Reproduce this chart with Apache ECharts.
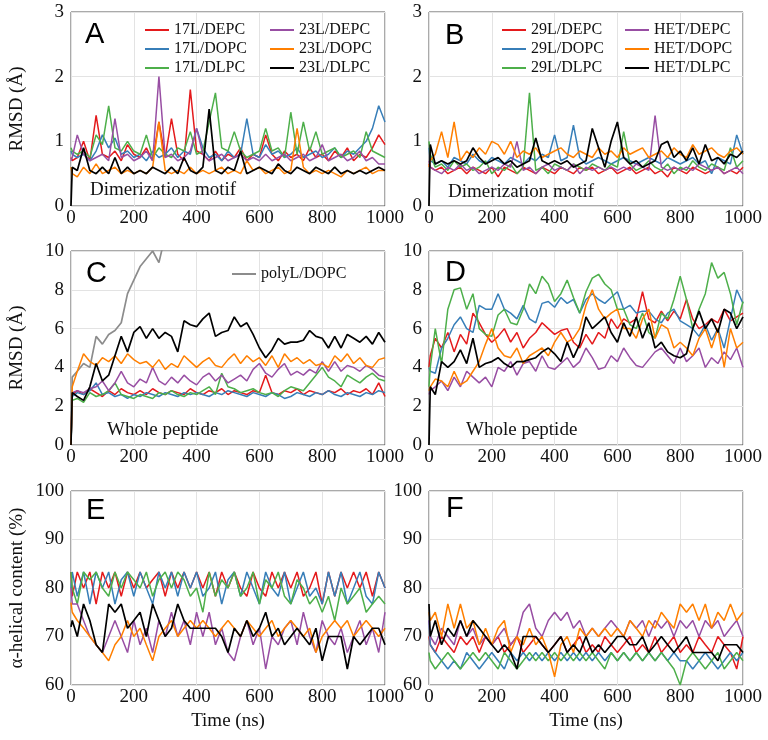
<!DOCTYPE html>
<html><head><meta charset="utf-8">
<script src="https://cdn.jsdelivr.net/npm/echarts@6/dist/echarts.min.js"></script>
<style>html,body{margin:0;padding:0;background:#fff}#c{width:768px;height:740px}</style>
</head><body><div id="c"></div>
<script>
// time points (ns)
const T = [0,4,20,40,60,80,100,120,140,160,180,200,220,240,260,280,300,320,340,360,380,400,420,440,460,480,500,520,540,560,580,600,620,640,660,680,700,720,740,760,780,800,820,840,860,880,900,920,940,960,980,1000];

// Panel A: dimerization motif RMSD
const A_17L_DEPC = [0.75,0.7, 0.75,1.0,0.7,1.4,0.8,0.75,0.85,0.7,0.95,0.8, 0.75,0.9,0.7,1.3,0.75,1.35,0.8,0.7,1.8,0.85, 0.8,0.7,0.85,0.7,0.8,0.75,0.9,0.7,0.8,0.75, 1.1,0.8,0.7,0.85,0.75,0.8,0.7,0.9,0.75,0.8, 0.7,0.85,0.75,0.9,0.7,0.8,0.75,0.9,1.1,0.95];
const A_17L_DOPC = [0.85,0.8, 0.75,0.8,0.7,0.85,1.1,0.9,1.05,0.8,0.85,0.75, 0.8,0.7,0.85,0.75,0.8,0.9,0.75,0.85,0.8,1.2, 0.9,0.75,0.8,0.7,0.85,0.75,0.8,1.35,0.8,0.75, 0.95,0.8,0.85,0.75,0.8,0.9,0.75,0.8,0.85,0.75, 0.8,0.9,0.75,0.85,0.8,0.9,1.0,1.2,1.55,1.3];
const A_17L_DLPC = [0.9,0.85, 0.8,0.85,0.75,1.1,0.95,1.55,0.9,0.85,1.0,0.85, 0.8,1.1,0.75,0.9,0.8,0.75,0.9,0.85,1.15,0.8, 0.85,1.3,1.75,0.9,0.85,1.15,0.85,0.75,0.8,0.85, 1.2,0.85,0.9,0.75,1.45,0.8,1.3,0.85,1.15,0.8, 0.85,0.9,0.75,0.8,0.85,0.75,1.15,0.85,0.8,0.75];
const A_23L_DEPC = [0.7,0.75, 1.1,0.8,0.7,0.75,0.8,0.7,1.35,0.75,0.8,0.7, 0.75,0.85,0.7,2.0,0.75,0.8,0.7,0.75,0.85,1.2, 0.8,0.7,0.75,0.8,0.7,0.75,0.8,0.7,0.75,0.7, 0.8,0.7,0.75,0.8,0.7,0.75,0.8,0.7,0.75,0.95, 0.7,0.75,0.8,0.7,0.75,0.85,0.7,0.75,0.65,0.65];
const A_23L_DOPC = [0.6,0.5, 0.45,0.6,0.5,0.65,0.5,0.55,0.6,0.5,0.55,0.5, 0.55,0.5,0.6,1.3,0.55,0.5,0.55,0.5,0.6,0.5, 0.55,0.5,0.55,0.6,0.5,0.55,0.5,0.7,0.55,0.6, 0.5,0.55,0.6,0.5,0.55,1.2,0.6,0.5,0.55,0.5, 0.55,0.5,0.45,0.55,0.5,0.55,0.6,0.5,0.55,0.55];
const A_23L_DLPC = [0,0.6, 0.55,0.9,0.55,0.5,0.6,0.5,0.75,0.5,0.6,0.5, 0.55,0.5,0.6,0.55,0.5,0.6,0.5,0.75,0.55,0.5, 0.6,1.5,0.55,0.5,0.6,0.55,0.85,0.5,0.55,0.6, 0.55,0.5,0.65,0.55,0.5,0.6,0.55,0.5,0.6,0.55, 0.5,0.6,0.5,0.55,0.5,0.55,0.5,0.55,0.6,0.55];

// Panel B
const B_29L_DEPC = [0.65,0.6, 0.55,0.6,0.5,0.55,0.6,0.5,0.6,0.55,0.5,0.6, 0.45,0.6,0.55,0.5,0.6,0.55,0.5,0.6,0.55,0.5, 0.6,0.55,0.5,0.6,0.55,0.6,0.5,0.55,0.6,0.5, 0.55,0.6,0.5,0.55,0.6,0.5,0.55,0.45,0.6,0.55, 0.5,0.6,0.55,0.5,0.55,0.6,0.5,0.55,0.5,0.6];
const B_29L_DOPC = [0.9,0.7, 0.65,0.7,0.6,0.75,0.7,0.65,0.8,0.7,0.65,0.75, 0.7,0.65,0.75,0.7,0.65,0.75,0.7,0.8,0.75,1.1, 0.7,0.75,1.25,0.75,0.65,0.7,0.75,0.7,0.65,0.7, 0.75,0.7,0.65,0.7,0.75,0.7,0.65,0.75,0.7,0.65, 0.7,0.75,0.65,0.7,0.5,0.75,0.7,0.65,1.1,0.8];
const B_29L_DLPC = [1.0,0.8, 0.6,0.65,0.55,0.7,0.6,0.65,0.55,0.6,0.7,0.5, 0.6,0.55,0.65,0.5,0.6,1.75,0.55,0.6,0.5,0.65, 0.6,0.55,0.65,0.6,0.55,0.65,0.6,0.55,0.65,0.6, 1.15,0.65,0.55,0.6,0.7,0.6,0.55,0.65,0.5,0.6, 0.55,0.7,0.6,0.55,0.65,0.6,0.55,0.9,0.6,0.7];
const B_HET_DEPC = [0.7,0.6, 0.55,0.5,0.6,0.55,0.65,0.55,0.6,0.5,0.55,0.6, 0.55,0.65,0.6,1.0,0.55,0.6,0.5,0.6,0.65,0.55, 0.6,0.55,0.65,0.5,0.6,0.55,0.6,0.55,0.6,0.55, 0.6,0.55,0.65,0.6,0.55,1.4,0.6,0.55,0.6,0.55, 0.6,0.55,0.65,0.6,0.55,0.6,0.5,0.55,0.6,0.5];
const B_HET_DOPC = [0.6,0.7, 0.8,1.15,0.75,1.3,0.7,0.85,0.75,0.9,0.8,1.0, 0.95,0.8,1.0,0.75,0.85,0.8,0.9,0.75,0.8,0.85, 0.9,0.8,0.75,0.85,0.8,0.75,0.9,0.8,0.85,0.75, 0.9,0.8,0.85,0.9,0.75,0.8,0.85,0.75,0.9,0.8, 0.75,0.95,0.8,0.85,0.9,0.8,0.75,0.85,0.9,0.8];
const B_HET_DLPC = [0,0.95, 0.65,0.7,0.65,0.7,0.65,0.7,0.9,0.75,0.65,0.7, 0.75,0.65,0.7,0.6,0.65,0.7,1.05,0.7,0.65,0.7, 0.65,0.7,0.6,0.65,0.7,1.2,0.9,0.6,1.0,1.3, 0.75,0.65,0.7,0.6,0.65,0.7,0.95,1.0,0.75,0.85, 0.7,0.9,0.65,0.95,0.7,0.75,0.65,0.8,0.75,0.85];

// Panel C: whole peptide RMSD
const C_17L_DEPC = [0,2.6, 2.8,2.6,2.9,2.7,2.5,2.8,2.6,2.9,2.7,2.6, 2.8,2.6,2.9,2.7,2.6,2.8,2.7,2.6,2.9,2.7, 2.6,2.8,2.7,2.9,2.6,2.8,2.7,2.6,2.8,2.7, 3.6,2.7,2.6,2.8,2.7,2.9,2.6,2.8,2.7,2.6, 2.8,2.7,2.9,2.6,2.8,2.7,2.9,2.6,3.2,2.5];
const C_17L_DOPC = [0,2.5, 2.7,2.6,2.8,3.2,2.6,2.7,2.5,2.6,2.4,2.6, 2.5,2.7,2.6,2.5,2.7,2.6,2.5,2.7,2.6,2.7, 2.6,2.5,2.7,2.6,2.8,2.7,2.6,2.5,2.7,2.6, 2.5,2.7,2.6,2.4,2.5,2.7,2.6,2.5,2.7,2.6, 2.8,2.6,2.5,2.7,2.6,2.5,2.7,2.6,2.8,2.7];
const C_17L_DLPC = [0,2.3, 2.4,2.2,2.7,2.5,2.6,2.8,3.2,2.6,2.5,2.4, 2.6,2.5,2.4,2.7,2.6,2.8,2.6,2.5,2.7,2.6, 2.8,3.0,2.6,3.7,3.0,2.9,2.7,2.8,2.9,2.7, 2.6,2.7,2.5,2.8,3.0,2.9,2.8,3.2,3.6,4.0, 3.5,3.3,3.0,3.6,3.4,3.2,3.5,3.7,3.4,3.3];
const C_23L_DEPC = [0,2.7, 2.8,2.7,2.9,3.0,3.3,2.8,3.2,3.8,3.2,3.0, 3.4,3.2,4.0,3.3,3.1,3.5,3.2,3.6,3.3,3.1, 3.5,3.7,3.3,3.6,3.2,3.4,3.6,3.3,3.9,4.2, 3.7,3.5,3.9,4.2,3.6,3.8,3.6,3.9,3.7,4.3, 3.8,4.3,3.8,4.1,4.0,3.8,4.1,3.9,3.6,3.5];
const C_23L_DOPC = [0,3.0, 3.8,4.7,4.3,4.1,4.5,4.3,4.6,4.2,4.7,4.4, 4.2,4.3,4.0,4.4,3.9,4.2,4.0,4.6,4.3,4.0, 4.3,4.5,4.1,4.0,4.4,4.7,4.2,4.6,4.3,4.5, 4.1,4.6,4.0,4.7,4.3,4.5,4.2,4.4,4.1,4.2, 4.0,4.6,4.3,4.7,4.2,4.5,4.1,4.0,4.4,4.5];
const C_23L_DLPC = [0,2.7, 2.5,2.3,3.0,4.2,3.3,3.6,4.6,5.6,4.8,5.8, 6.1,5.5,6.0,5.5,5.8,5.6,4.8,6.4,6.2,6.1, 6.5,6.8,5.6,5.8,5.9,6.6,6.1,6.3,5.7,5.0, 4.5,4.9,5.5,5.2,5.3,5.3,5.4,5.9,5.6,5.5, 5.0,5.6,5.0,5.7,5.5,5.3,5.6,5.2,5.8,5.3];
const C_polyL_DOPC = [0,3.5, 3.8,4.2,4.0,5.6,5.2,5.7,5.9,6.3,7.8,8.5, 9.2,9.6,10.0,9.4,10.8,11.5];

// Panel D
const D_29L_DEPC = [4.0,4.6, 5.5,5.0,5.8,4.8,5.7,5.2,6.8,6.3,5.7,5.3, 5.6,6.0,5.3,5.8,5.0,5.5,5.8,6.3,6.0,5.7, 5.9,6.0,5.3,5.0,5.7,5.2,5.8,5.5,6.5,6.0, 6.5,6.3,6.5,7.9,6.5,6.3,6.9,6.4,6.9,6.5, 7.5,6.5,6.0,6.2,6.5,6.3,7.0,6.4,6.6,6.8];
const D_29L_DOPC = [4.0,3.8, 3.7,5.0,5.5,6.2,6.6,6.0,5.8,7.2,7.0,7.0, 7.8,7.0,6.8,6.5,7.2,6.5,6.3,7.3,7.4,7.1, 7.6,7.3,7.5,6.8,7.5,7.8,7.5,7.3,7.6,7.9, 7.0,7.2,6.8,6.9,6.9,6.5,6.3,6.8,7.0,6.4, 6.2,6.0,5.6,6.2,5.4,6.0,5.0,6.5,8.0,7.3];
const D_29L_DLPC = [3.0,4.0, 6.0,4.2,7.0,8.0,8.1,7.0,7.8,6.0,5.7,5.6, 6.7,7.0,6.3,6.2,7.0,8.3,7.8,8.7,8.3,7.4, 7.8,8.5,7.6,6.8,7.9,8.6,8.8,8.3,8.0,7.0, 7.0,6.2,6.0,6.8,5.8,5.5,6.8,6.5,7.5,8.7, 7.5,6.0,7.0,7.8,9.4,8.6,8.9,7.8,6.2,7.4];
const D_HET_DEPC = [2.6,2.8, 3.0,3.3,2.8,3.5,3.0,3.8,3.5,3.2,3.5,3.0, 4.0,3.8,4.3,3.6,4.2,4.3,3.8,4.6,4.0,3.9, 4.2,4.5,4.0,4.3,5.0,4.5,3.9,4.0,4.6,4.3, 5.0,4.5,4.1,4.0,4.4,4.8,5.0,4.6,4.2,5.0, 4.3,4.6,5.0,4.0,4.5,4.2,4.8,4.4,5.0,4.0];
const D_HET_DOPC = [2.8,3.0, 3.4,3.3,3.0,3.8,3.1,3.3,3.8,4.3,5.2,6.0, 5.0,4.6,4.5,5.0,4.2,4.6,4.8,5.0,4.6,5.3, 5.8,5.3,5.5,6.0,7.2,8.0,7.0,6.5,6.8,7.0, 6.0,6.0,5.5,6.5,7.0,5.5,6.2,6.0,5.0,5.3, 5.0,4.6,5.5,6.0,5.0,6.0,4.0,6.0,5.0,5.3];
const D_HET_DLPC = [0,3.0, 2.6,4.3,4.0,4.3,4.9,4.2,5.5,4.0,4.2,4.3, 4.5,4.2,4.0,4.3,4.3,4.4,4.5,4.8,5.0,4.7, 4.3,5.3,4.5,5.2,6.6,6.0,6.3,6.6,5.8,5.3, 6.3,5.6,6.6,5.5,6.3,5.0,5.3,4.8,4.6,4.5, 4.7,6.0,6.9,6.0,6.5,5.8,7.0,6.8,6.0,6.6];

// Panel E: alpha-helical content
const E_17L_DEPC = [83.3,78.3, 83.3,80,83.3,76.7,83.3,80,83.3,78.3,83.3,80, 83.3,80,81.7,83.3,78.3,83.3,80,83.3,80,83.3, 80,83.3,78.3,83.3,80,83.3,80,78.3,83.3,80, 78.3,83.3,80,83.3,80,83.3,78.3,80,83.3,76.7, 83.3,78.3,83.3,80,83.3,80,83.3,78.3,83.3,80];
const E_17L_DOPC = [80,83.3, 78.3,83.3,76.7,83.3,80,83.3,76.7,81.7,83.3,78.3, 83.3,80,76.7,83.3,80,83.3,78.3,83.3,80,83.3, 78.3,80,83.3,76.7,81.7,83.3,78.3,83.3,80,76.7, 83.3,80,78.3,83.3,76.7,80,83.3,78.3,80,76.7, 83.3,78.3,83.3,76.7,80,83.3,78.3,76.7,83.3,80];
const E_17L_DLPC = [83.3,80, 76.7,83.3,81.7,83.3,80,78.3,83.3,80,83.3,81.7, 80,83.3,78.3,81.7,83.3,80,83.3,81.7,78.3,80, 75,83.3,78.3,81.7,80,83.3,78.3,80,83.3,76.7, 81.7,80,83.3,78.3,76.7,81.7,80,76.7,78.3,75, 78.3,73.3,80,76.7,78.3,80,75,76.7,78.3,76.7];
const E_23L_DEPC = [80,76.7, 76.7,73.3,70,68.3,66.7,70,73.3,70,66.7,73.3, 68.3,71.7,66.7,73.3,70,75,70,73.3,68.3,75, 70,75,68.3,71.7,66.7,65,70,73.3,68.3,71.7, 63.3,70,68.3,71.7,73.3,68.3,75,70,66.7,73.3, 70,68.3,71.7,66.7,70,73.3,68.3,71.7,66.7,75];
const E_23L_DOPC = [77,75, 73.3,71.7,70,68.3,66.7,65,68.3,70,73.3,70, 71.7,68.3,65,70,71.7,73.3,70,71.7,73.3,71.7, 73.3,71.7,70,71.7,73.3,71.7,70,73.3,71.7,70, 71.7,73.3,70,71.7,73.3,71.7,70,71.7,66.7,70, 71.7,73.3,71.7,73.3,70,71.7,73.3,71.7,70,71.7];
const E_23L_DLPC = [72,73.3, 70,76.7,73.3,68.3,66.7,76.7,75,76.7,71.7,73.3, 75,70,76.7,73.3,70,71.7,76.7,73.3,71.7,71.7, 71.7,71.7,71.7,70,66.7,71.7,70,73.3,70,71.7, 75,70,71.7,68.3,70,71.7,70,68.3,71.7,65, 70,70,70,63.3,70,68.3,70,71.7,71.7,68.3];

// Panel F
const F_29L_DEPC = [70,68.3, 66.7,70,68.3,66.7,70,68.3,70,66.7,70,68.3, 70,66.7,68.3,70,66.7,68.3,70,68.3,66.7,68.3, 70,66.7,68.3,70,66.7,68.3,66.7,70,68.3,66.7, 68.3,70,66.7,68.3,66.7,70,66.7,68.3,70,66.7, 68.3,66.7,70,68.3,66.7,70,68.3,66.7,63.3,70];
const F_29L_DOPC = [73.3,68.3, 66.7,65,63.3,65,63.3,66.7,65,63.3,65,66.7, 65,63.3,66.7,65,66.7,65,66.7,65,66.7,65, 66.7,65,66.7,65,66.7,65,66.7,65,66.7,65, 66.7,65,66.7,65,66.7,65,66.7,65,66.7,65, 65,63.3,65,66.7,65,63.3,65,66.7,65,66.7];
const F_29L_DLPC = [66.7,65, 63.3,65,66.7,65,63.3,65,66.7,65,66.7,65, 63.3,66.7,65,63.3,65,66.7,65,66.7,65,66.7, 65,66.7,65,66.7,65,66.7,65,63.3,66.7,65, 66.7,65,66.7,65,66.7,65,66.7,65,63.3,60, 65,66.7,65,63.3,65,66.7,63.3,65,66.7,65];
const F_HET_DEPC = [73.3,70, 68.3,71.7,70,68.3,73.3,70,71.7,68.3,70,68.3, 70,71.7,68.3,70,75,76.7,71.7,70,73.3,75, 73.3,75,71.7,73.3,70,71.7,70,71.7,73.3,71.7, 70,73.3,71.7,73.3,70,73.3,71.7,73.3,70,73.3, 71.7,73.3,70,73.3,71.7,73.3,70,71.7,73.3,70];
const F_HET_DOPC = [75,73.3, 75,70,76.7,71.7,76.7,71.7,73.3,68.3,71.7,68.3, 71.7,73.3,66.7,70,68.3,71.7,68.3,70,66.7,61.7, 68.3,70,66.7,71.7,70,71.7,70,71.7,70,71.7, 70,73.3,71.7,70,73.3,71.7,75,73.3,71.7,76.7, 75,76.7,73.3,76.7,71.7,75,73.3,76.7,73.3,75];
const F_HET_DLPC = [76.7,70, 73.3,68.3,71.7,70,73.3,70,73.3,71.7,70,68.3, 66.7,68.3,66.7,63.3,70,70,70,68.3,66.7,68.3, 70,66.7,68.3,66.7,70,66.7,68.3,66.7,68.3,70, 70,68.3,68.3,70,66.7,68.3,70,68.3,66.7,68.3, 70,66.7,66.7,66.7,66.7,65,68.3,68.3,68.3,66.7];

const namesLeft = ['17L/DEPC','17L/DOPC','17L/DLPC','23L/DEPC','23L/DOPC','23L/DLPC'];
const namesRight = ['29L/DEPC','29L/DOPC','29L/DLPC','HET/DEPC','HET/DOPC','HET/DLPC'];
const panelLetters = ['A','B','C','D','E','F'];
const yTickSets = [[0,3,1],[0,3,1],[0,10,2],[0,10,2],[60,100,10],[60,100,10]];
const yTitles = ['RMSD (Å)','','RMSD (Å)','','α-helical content (%)',''];
const xTitles = ['','','','','Time (ns)','Time (ns)'];

const panelData = [
  [A_17L_DEPC,A_17L_DOPC,A_17L_DLPC,A_23L_DEPC,A_23L_DOPC,A_23L_DLPC],
  [B_29L_DEPC,B_29L_DOPC,B_29L_DLPC,B_HET_DEPC,B_HET_DOPC,B_HET_DLPC],
  [C_17L_DEPC,C_17L_DOPC,C_17L_DLPC,C_23L_DEPC,C_23L_DOPC,C_23L_DLPC],
  [D_29L_DEPC,D_29L_DOPC,D_29L_DLPC,D_HET_DEPC,D_HET_DOPC,D_HET_DLPC],
  [E_17L_DEPC,E_17L_DOPC,E_17L_DLPC,E_23L_DEPC,E_23L_DOPC,E_23L_DLPC],
  [F_29L_DEPC,F_29L_DOPC,F_29L_DLPC,F_HET_DEPC,F_HET_DOPC,F_HET_DLPC]
];

const COLORS = ['#e41a1c','#377eb8','#4daf4a','#984ea3','#ff7f00','#000000'];
const GRAY = '#8c8c8c';
const SERIF = '"Liberation Serif", "DejaVu Serif", serif';
const SANS = '"Liberation Sans", Arial, sans-serif';

const gridPos = [[71,12],[429,12],[71,251],[429,251],[71,491],[429,491]];
const grids = gridPos.map(p => ({left:p[0], top:p[1], width:314, height:194, show:true, borderColor:'#555', borderWidth:1, backgroundColor:'transparent'}));

const xAxes = gridPos.map((p,i) => ({
  gridIndex:i, type:'value', min:0, max:1000, interval:200,
  axisLine:{show:false}, axisTick:{show:false},
  splitLine:{show:true, lineStyle:{color:'#e3e3e3', width:1}},
  axisLabel:{fontFamily:SERIF, fontSize:19, color:'#111', margin:3, formatter: v => String(v)},
  name:xTitles[i], nameLocation:'middle', nameGap:27,
  nameTextStyle:{fontFamily:SERIF, fontSize:19, color:'#111'}
}));
const yAxes = gridPos.map((p,i) => ({
  gridIndex:i, type:'value', min:yTickSets[i][0], max:yTickSets[i][1], interval:yTickSets[i][2],
  axisLine:{show:false}, axisTick:{show:false},
  splitLine:{show:true, lineStyle:{color:'#e3e3e3', width:1}},
  axisLabel:{fontFamily:SERIF, fontSize:19, color:'#111', margin:7, formatter: v => String(v)},
  name:yTitles[i], nameLocation:'middle', nameGap:44,
  nameTextStyle:{fontFamily:SERIF, fontSize:19, color:'#111'}
}));

const series = [];
panelData.forEach((arrs, p) => {
  const names = (p % 2 === 0) ? namesLeft : namesRight;
  arrs.forEach((arr, j) => {
    series.push({
      type:'line', name: p < 2 ? names[j] : panelLetters[p] + ' ' + names[j],
      xAxisIndex:p, yAxisIndex:p,
      data: arr.map((v,k) => [T[k], v]),
      showSymbol:false, symbol:'none', animation:false, clip:true,
      color: COLORS[j],
      lineStyle:{width: j === 5 ? 1.7 : 1.5, color: COLORS[j]},
      z: 2 + j
    });
  });
});
series.push({
  type:'line', name:'polyL/DOPC', xAxisIndex:2, yAxisIndex:2,
  data: C_polyL_DOPC.map((v,k) => [T[k], v]),
  showSymbol:false, symbol:'none', animation:false, clip:true,
  color: GRAY, lineStyle:{width:1.7, color:GRAY}, z:1
});

function legend(left, top, data) {
  return {left:left, top:top, orient:'vertical', data:data, icon:'rect', itemWidth:24, itemHeight:2,
    itemGap:3, padding:0, selectedMode:false,
    textStyle:{fontFamily:SERIF, fontSize:16, color:'#111'}};
}

const letterPos = [[85,20],[445,21],[86,259],[445,258],[86,496],[446,494]];
const graphic = letterPos.map((p,i) => ({
  type:'text', left:p[0], top:p[1], z:100,
  style:{text:panelLetters[i], fontFamily:SANS, fontSize:29, fill:'#000'}
}));
graphic.push({type:'text', left:90, top:181, z:100, style:{text:'Dimerization motif', fontFamily:SERIF, fontSize:19, fill:'#111'}});
graphic.push({type:'text', left:448, top:183, z:100, style:{text:'Dimerization motif', fontFamily:SERIF, fontSize:19, fill:'#111'}});
graphic.push({type:'text', left:107, top:421, z:100, style:{text:'Whole peptide', fontFamily:SERIF, fontSize:19, fill:'#111'}});
graphic.push({type:'text', left:466, top:421, z:100, style:{text:'Whole peptide', fontFamily:SERIF, fontSize:19, fill:'#111'}});

const chart = echarts.init(document.getElementById('c'), null, {renderer:'canvas'});
chart.setOption({
  backgroundColor:'#fff',
  animation:false,
  grid: grids, xAxis: xAxes, yAxis: yAxes, series: series,
  legend: [
    legend(145, 22, namesLeft.slice(0,3)),
    legend(270, 22, namesLeft.slice(3)),
    legend(502, 22, namesRight.slice(0,3)),
    legend(625, 22, namesRight.slice(3)),
    legend(232, 266, ['polyL/DOPC'])
  ],
  graphic: graphic
});
</script>
</body></html>
